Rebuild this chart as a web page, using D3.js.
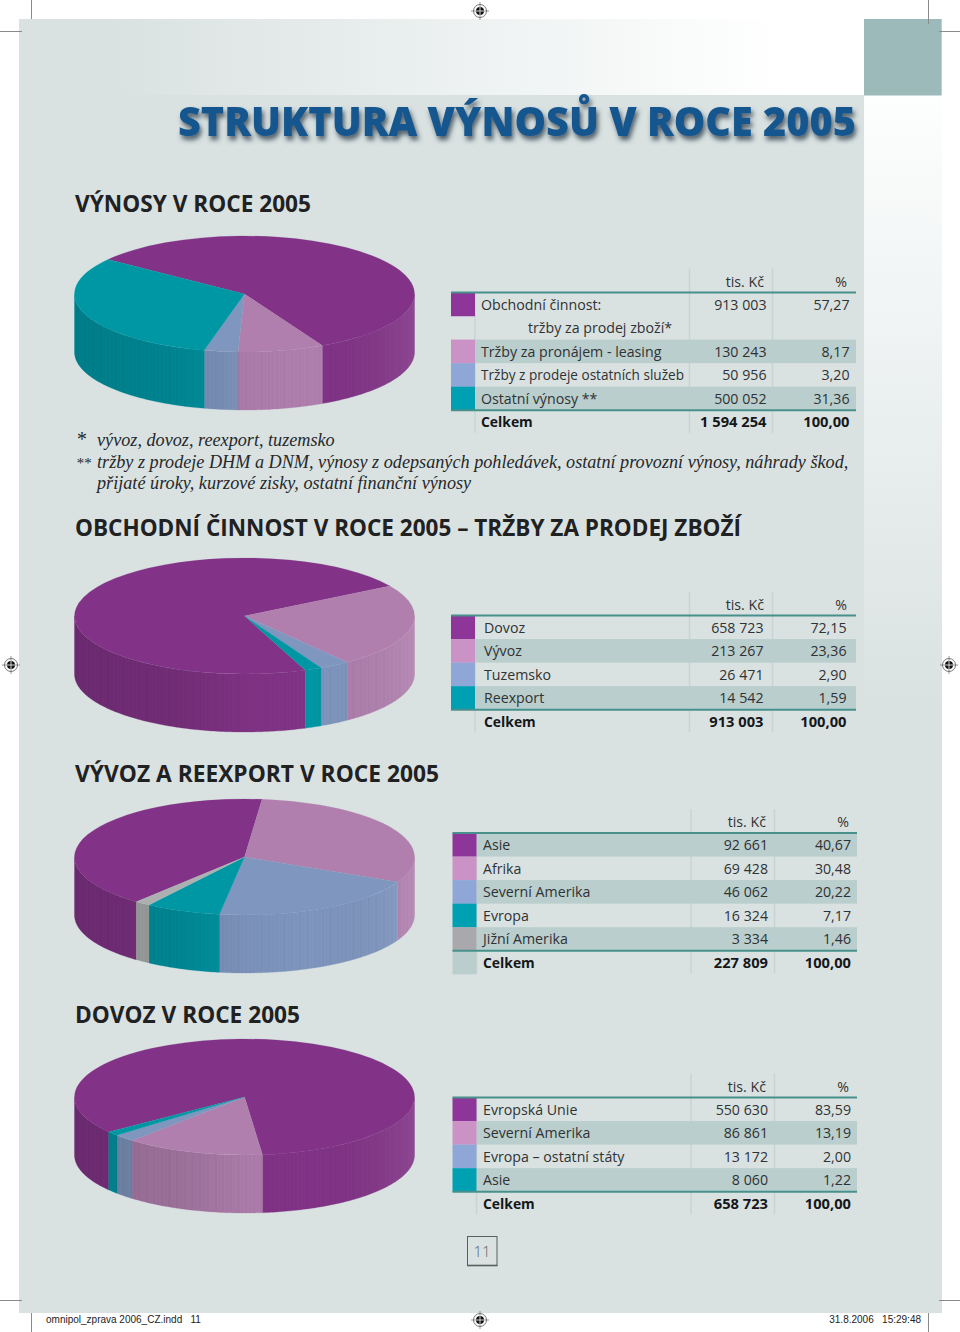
<!DOCTYPE html>
<html><head><meta charset="utf-8"><title>Struktura výnosů v roce 2005</title>
<script src="https://cdn.jsdelivr.net/npm/d3@7"></script>
<style>html,body{margin:0;padding:0;background:#fff}svg{display:block}</style></head>
<body><svg id="c" width="960" height="1332" xmlns="http://www.w3.org/2000/svg"></svg>
<script>
// ---- data ----
const t1Labels = ["Obchodní činnost:", "tržby za prodej zboží*", "Tržby za pronájem - leasing", "Tržby z prodeje ostatních služeb", "Ostatní výnosy **"];
const t1Values = [913003, null, 130243, 50956, 500052];
const t1Pct = [57.27, null, 8.17, 3.20, 31.36];
const t1Total = [1594254, 100];
const t2Labels = ["Dovoz", "Vývoz", "Tuzemsko", "Reexport"];
const t2Values = [658723, 213267, 26471, 14542];
const t2Pct = [72.15, 23.36, 2.90, 1.59];
const t2Total = [913003, 100];
const t3Labels = ["Asie", "Afrika", "Severní Amerika", "Evropa", "Jižní Amerika"];
const t3Values = [92661, 69428, 46062, 16324, 3334];
const t3Pct = [40.67, 30.48, 20.22, 7.17, 1.46];
const t3Total = [227809, 100];
const t4Labels = ["Evropská Unie", "Severní Amerika", "Evropa – ostatní státy", "Asie"];
const t4Values = [550630, 86861, 13172, 8060];
const t4Pct = [83.59, 13.19, 2.00, 1.22];
const t4Total = [658723, 100];
const pieColors = ["#823387", "#b07fae", "#7f96bf", "#0097a5", "#adb0b0"];
const swatchColors = ["#8e359a", "#cb92c6", "#8fa7d6", "#00a0b3", "#a9a9ad"];
const footnotes = [["*", "vývoz, dovoz, reexport, tuzemsko"], ["**", "tržby z prodeje DHM a DNM, výnosy z odepsaných pohledávek, ostatní provozní výnosy, náhrady škod,"], ["", "přijaté úroky, kurzové zisky, ostatní finanční výnosy"]];

// ---- helpers ----
const svg = d3.select("#c");
const defs = svg.append("defs");
const loc = d3.formatLocale({decimal: ",", thousands: " ", grouping: [3], currency: ["", ""]});
const fmtV = loc.format(",d"), fmtP = loc.format(".2f");
const SANS = "'Open Sans','Noto Sans',sans-serif";
const BG = "#d9e2e1", BAND = "#b9cecd", RULE = "#48908b", VLINE = "#c6d5d3";

function lin(id, x1, y1, x2, y2, stops, user) {
  const g = defs.append("linearGradient").attr("id", id).attr("x1", x1).attr("y1", y1).attr("x2", x2).attr("y2", y2);
  if (user) g.attr("gradientUnits", "userSpaceOnUse");
  stops.forEach(s => g.append("stop").attr("offset", s[0]).attr("stop-color", s[1]).attr("stop-opacity", s[2] === undefined ? 1 : s[2]));
}
lin("topFade", 0, 0, 1, 0, [[0, BG], [0.1, BG], [0.9, "#ffffff"], [1, "#ffffff"]]);
lin("stripFade", 0, 0, 0, 1, [[0, "#fdfefe"], [1, BG]]);
lin("wallShade", 75, 0, 415, 0, [[0, "#000", 0.17], [0.3, "#000", 0.12], [0.5, "#000", 0.03], [0.7, "#000", 0], [1, "#fff", 0.1]], true);
const f = defs.append("filter").attr("id", "tshadow").attr("x", "-5%").attr("y", "-30%").attr("width", "110%").attr("height", "170%");
f.append("feDropShadow").attr("dx", 2).attr("dy", 4).attr("stdDeviation", 2.4).attr("flood-color", "#2b3a48").attr("flood-opacity", 0.8);
const pat = defs.append("pattern").attr("id", "bands").attr("patternUnits", "userSpaceOnUse").attr("width", 23).attr("height", 10);
[[0, 2, .025], [4, 1, .02], [7, 3, .025], [12, 1, .018], [15, 2, .025], [19, 2, .015]].forEach(b =>
  pat.append("rect").attr("x", b[0]).attr("y", 0).attr("width", b[1]).attr("height", 10).attr("fill", "#000").attr("opacity", b[2]));

// ---- page ----
svg.append("rect").attr("x", 19).attr("y", 19).attr("width", 923).attr("height", 1294).attr("fill", BG);
svg.append("rect").attr("x", 19).attr("y", 19).attr("width", 845).attr("height", 76).attr("fill", "url(#topFade)");
svg.append("rect").attr("x", 864).attr("y", 95).attr("width", 78).attr("height", 620).attr("fill", "url(#stripFade)");
svg.append("rect").attr("x", 864).attr("y", 19).attr("width", 77.5).attr("height", 76.5).attr("fill", "#9bbab9");

const crops = [[31.5,0,31.5,19],[928.5,0,928.5,24],[0,31.5,22,31.5],[939,31.5,960,31.5],[0,1300.5,22,1300.5],[939,1300.5,960,1300.5],[31.5,1313,31.5,1332],[928.5,1313,928.5,1332]];
svg.append("g").selectAll("line").data(crops).join("line").attr("x1", d => d[0]).attr("y1", d => d[1]).attr("x2", d => d[2]).attr("y2", d => d[3]).attr("stroke", "#8a8a8a").attr("stroke-width", 1);
[[480, 11], [480, 1320], [11, 665], [949, 665]].forEach(p => {
  const g = svg.append("g").attr("transform", `translate(${p[0]},${p[1]})`);
  g.append("circle").attr("r", 6.5).attr("fill", "#fff").attr("stroke", "#555").attr("stroke-width", 0.8);
  g.append("circle").attr("r", 4).attr("fill", "#111");
  g.append("path").attr("d", "M-9 0H9M0 -9V9").attr("stroke", "#555").attr("stroke-width", 0.6);
  g.append("path").attr("d", "M-4 0H4M0 -4V4").attr("stroke", "#fff").attr("stroke-width", 0.7);
});

svg.append("text").attr("x", 178).attr("y", 136).attr("font-family", SANS).attr("font-weight", 800).attr("font-size", 40)
  .attr("textLength", 678).attr("lengthAdjust", "spacingAndGlyphs").attr("fill", "#17578f").attr("filter", "url(#tshadow)").text("STRUKTURA VÝNOSŮ V ROCE 2005");

[["VÝNOSY V ROCE 2005", 212, 236], ["OBCHODNÍ ČINNOST V ROCE 2005 – TRŽBY ZA PRODEJ ZBOŽÍ", 536, 666], ["VÝVOZ A REEXPORT V ROCE 2005", 782, 364], ["DOVOZ V ROCE 2005", 1023, 225]].forEach(h =>
  svg.append("text").attr("x", 75).attr("y", h[1]).attr("font-family", SANS).attr("font-weight", 700).attr("font-size", 23.5)
    .attr("textLength", h[2]).attr("lengthAdjust", "spacingAndGlyphs").attr("fill", "#1f2122").text(h[0]));

// footnotes
const fnY = [446, 468, 489];
footnotes.forEach((n, i) => {
  const g = svg.append("g").attr("font-family", "'Liberation Serif',serif").attr("font-style", "italic").attr("fill", "#26282a");
  if (n[0]) g.append("text").attr("x", 76).attr("y", fnY[i]).attr("font-size", n[0] === "*" ? 20 : 15).text(n[0]);
  g.append("text").attr("x", 97).attr("y", fnY[i]).attr("font-size", 18.2).text(n[1]);
});

// ---- pies ----
const RX = 170, RY = 58, DEPTH = 58, CX = 244.5;
const yScaleK = RY / RX;
function drawPie(values, cy, startDeg) {
  const vals = values.filter(v => v !== null);
  const start = startDeg * Math.PI / 180;
  const arcs = d3.pie().sort(null).startAngle(start).endAngle(start + 2 * Math.PI)(vals);
  const g = svg.append("g");
  const pt = (a, dy) => [CX + RX * Math.sin(a), cy - RY * Math.cos(a) + dy];
  const wall = (a0, a1) => {
    const n = Math.max(2, Math.ceil((a1 - a0) * 60));
    const as = d3.range(n + 1).map(i => a0 + (a1 - a0) * i / n);
    return d3.line()(as.map(a => pt(a, 0)).concat(as.slice().reverse().map(a => pt(a, DEPTH)))) + "Z";
  };
  const FRONT0 = Math.PI / 2, FRONT1 = 3 * Math.PI / 2;
  arcs.forEach(d => {
    [-2, 0, 2].forEach(k => {
      const a0 = Math.max(d.startAngle, FRONT0 + k * Math.PI), a1 = Math.min(d.endAngle, FRONT1 + k * Math.PI);
      if (a1 > a0) g.append("path").attr("d", wall(a0 - k * Math.PI, a1 - k * Math.PI)).attr("fill", pieColors[d.index]).attr("stroke", pieColors[d.index]).attr("stroke-width", 0.3);
    });
  });
  g.append("path").attr("d", wall(FRONT0, FRONT1)).attr("fill", "url(#wallShade)");
  g.append("path").attr("d", wall(FRONT0, FRONT1)).attr("fill", "url(#bands)");
  const top = g.append("g").attr("transform", `translate(${CX},${cy}) scale(1,${yScaleK})`);
  const arc = d3.arc().innerRadius(0).outerRadius(RX);
  top.selectAll("path").data(arcs).join("path").attr("d", arc).attr("fill", d => pieColors[d.index]).attr("stroke", d => pieColors[d.index]).attr("stroke-width", 0.3);
}
drawPie(t1Values, 294, 306.6);
drawPie(t2Values, 616, 159);
drawPie(t3Values, 857, 219.5);
drawPie(t4Values, 1097, 233);

// ---- tables ----
function drawTable(o) {
  const g = svg.append("g").attr("font-family", SANS).attr("font-size", 14.2).attr("fill", "#303234");
  const rowH = 23.55, n = o.labels.length;
  const yBottom = o.ruleY + (n + 1) * rowH;
  [o.sx1, o.v1, o.v2].forEach(x => {
    const top = x === o.sx1 ? o.ruleY : o.ruleY - 24;
    g.append("line").attr("x1", x).attr("x2", x).attr("y1", top).attr("y2", yBottom - 1).attr("stroke", VLINE).attr("stroke-width", 1.5);
  });
  const rowIdx = d3.range(n + 1);
  const y = d3.scaleLinear().domain([0, n + 1]).range([o.ruleY, yBottom]);
  g.selectAll("rect.band").data(o.bands).join("rect").attr("class", "band").attr("x", o.sx1).attr("y", d => y(d)).attr("width", o.right - o.sx1).attr("height", rowH).attr("fill", BAND);
  let c = 0;
  o.values.forEach((v, i) => {
    if (v === null) return;
    g.append("rect").attr("x", o.sx0).attr("y", y(i)).attr("width", o.sx1 - o.sx0).attr("height", rowH + 0.2).attr("fill", swatchColors[c++]);
  });
  if (o.totalSwatch) g.append("rect").attr("x", o.sx0).attr("y", y(n)).attr("width", o.sx1 - o.sx0).attr("height", rowH).attr("fill", BAND);
  [o.ruleY, y(n)].forEach(yy => g.append("line").attr("x1", o.sx0).attr("x2", o.right).attr("y1", yy).attr("y2", yy).attr("stroke", RULE).attr("stroke-width", 2));
  g.append("text").attr("x", o.hv).attr("y", o.ruleY - 6).attr("text-anchor", "end").text("tis. Kč");
  g.append("text").attr("x", o.hp).attr("y", o.ruleY - 6).attr("text-anchor", "end").text("%");
  rowIdx.forEach(i => {
    const base = y(i) + 17;
    const total = i === n;
    const tg = g.append("g").attr("font-weight", total ? 700 : 400).attr("fill", total ? "#15171a" : "#303234");
    const label = total ? "Celkem" : o.labels[i];
    const val = total ? o.total[0] : o.values[i], pct = total ? o.total[1] : o.pct[i];
    const lt = tg.append("text").attr("x", o.values[i] === null && !total ? o.lx + 47 : o.lx).attr("y", base).text(label);
    if (total) lt.attr("font-size", 13.9);
    if (o.fit && o.fit[i]) lt.attr("textLength", o.fit[i]).attr("lengthAdjust", "spacingAndGlyphs");
    if (val !== null) {
      const fs = total ? 14.7 : 14.2;
      tg.append("text").attr("x", o.vx).attr("y", base).attr("text-anchor", "end").attr("font-size", fs).text(fmtV(val));
      tg.append("text").attr("x", o.px).attr("y", base).attr("text-anchor", "end").attr("font-size", fs).text(fmtP(pct));
    }
  });
}
drawTable({labels: t1Labels, values: t1Values, pct: t1Pct, total: t1Total, ruleY: 292.5, sx0: 451, sx1: 475, right: 856, v1: 689.5, v2: 772.5, lx: 481, vx: 766.5, px: 849.5, hv: 764, hp: 847, bands: [2, 4], fit: {3: 203}});
drawTable({labels: t2Labels, values: t2Values, pct: t2Pct, total: t2Total, ruleY: 615.5, sx0: 451, sx1: 475, right: 856, v1: 689.5, v2: 772.5, lx: 484, vx: 763.5, px: 846.5, hv: 764, hp: 847, bands: [1, 3]});
drawTable({labels: t3Labels, values: t3Values, pct: t3Pct, total: t3Total, ruleY: 833, sx0: 452.5, sx1: 476.5, right: 857, v1: 691, v2: 774.5, lx: 483, vx: 768, px: 851, hv: 766, hp: 849, bands: [0, 2, 4], totalSwatch: true});
drawTable({labels: t4Labels, values: t4Values, pct: t4Pct, total: t4Total, ruleY: 1097.5, sx0: 452.5, sx1: 476.5, right: 857, v1: 691, v2: 774.5, lx: 483, vx: 768, px: 851, hv: 766, hp: 849, bands: [1, 3]});

// page number + slug
svg.append("rect").attr("x", 467.5).attr("y", 1236.5).attr("width", 29.5).attr("height", 29).attr("fill", "none").attr("stroke", "#55605f").attr("stroke-width", 1);
svg.append("line").attr("x1", 467).attr("x2", 497.5).attr("y1", 1265.5).attr("y2", 1265.5).attr("stroke", "#55605f").attr("stroke-width", 1.6);
svg.append("text").attr("x", 482).attr("y", 1257).attr("text-anchor", "middle").attr("font-family", SANS).attr("font-weight", 300).attr("font-size", 15).attr("fill", "#5f6665").text("11");
svg.append("text").attr("x", 46).attr("y", 1323).attr("font-family", "'Liberation Sans',sans-serif").attr("font-size", 10).attr("fill", "#222").attr("xml:space", "preserve").text("omnipol_zprava 2006_CZ.indd   11");
svg.append("text").attr("x", 921).attr("y", 1323).attr("text-anchor", "end").attr("font-family", "'Liberation Sans',sans-serif").attr("font-size", 10).attr("fill", "#222").attr("xml:space", "preserve").text("31.8.2006   15:29:48");
</script></body></html>
